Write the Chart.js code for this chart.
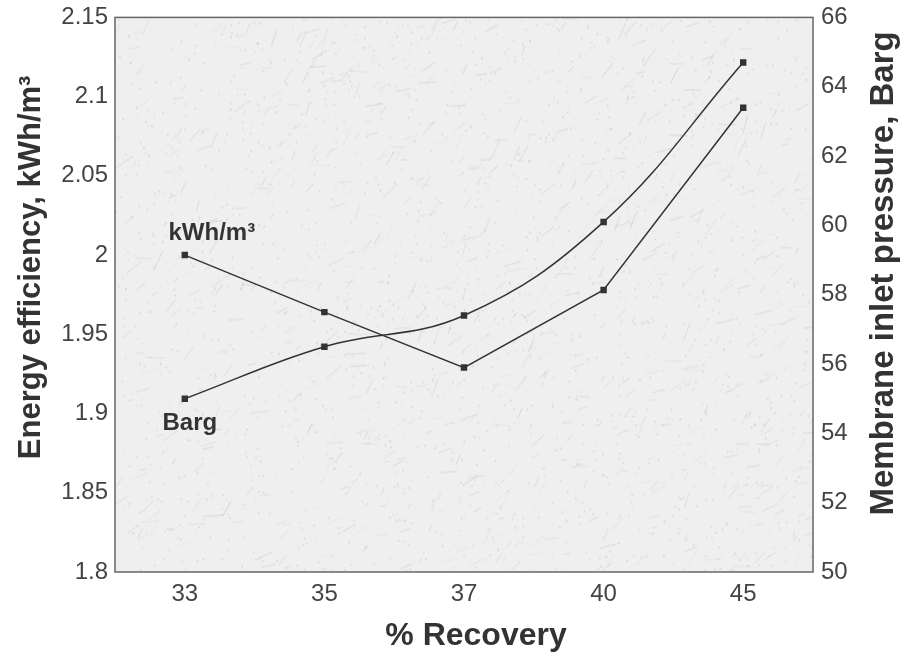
<!DOCTYPE html>
<html>
<head>
<meta charset="utf-8">
<script src="https://cdn.jsdelivr.net/npm/chart.js@4.4.1/dist/chart.umd.min.js"></script>
<style>
  html, body { margin: 0; padding: 0; background: #fff; }
  #wrap { width: 907px; height: 657px; }
</style>
</head>
<body>
<div id="wrap"><canvas id="chart" width="907" height="657"></canvas></div>
<script>
// data
const recovery = ['33', '35', '37', '40', '45'];
const energy = [2.0, 1.964, 1.929, 1.978, 2.093];   // kWh/m3, left axis
const pressure = [55.0, 56.5, 57.4, 60.1, 64.7];    // Barg, right axis
const leftTicks = [1.8, 1.85, 1.9, 1.95, 2, 2.05, 2.1, 2.15];
const rightTicks = [50, 52, 54, 56, 58, 60, 62, 64, 66];

const ink = '#333';
const font = 'Arial, "Liberation Sans", sans-serif';

// marble-ish backdrop for the plot area (deterministic texture)
function marble(w, h) {
  const c = document.createElement('canvas');
  c.width = w; c.height = h;
  const g = c.getContext('2d');
  g.fillStyle = '#efefef';
  g.fillRect(0, 0, w, h);
  const hash = n => { const s = Math.sin(n * 12.9898) * 43758.5453; return s - Math.floor(s); };
  for (let i = 0; i < 700; i++) {
    const x = hash(i) * w, y = hash(i + 0.5) * h;
    const a = -0.6 + (hash(i + 0.25) - 0.5) * 1.4;
    const len = 5 + hash(i + 0.75) * 14;
    g.strokeStyle = 'rgba(150,150,150,' + (0.08 + hash(i + 0.1) * 0.2) + ')';
    g.lineWidth = 1;
    g.beginPath();
    g.moveTo(x, y);
    g.lineTo(x + Math.cos(a) * len, y + Math.sin(a) * len);
    g.stroke();
  }
  for (let i = 0; i < 1800; i++) {
    const x = hash(i + 3000) * w, y = hash(i + 4000.5) * h;
    g.fillStyle = 'rgba(150,150,150,' + (0.12 + hash(i + 5000) * 0.25) + ')';
    g.fillRect(x, y, 1.5, 1.5);
  }
  return c;
}

function rotatedText(ctx, text, x, y, size) {
  ctx.save();
  ctx.translate(x, y);
  ctx.rotate(-Math.PI / 2);
  ctx.font = 'bold ' + size + 'px ' + font;
  ctx.fillText(text, 0, 0);
  ctx.restore();
}

const plotDecor = {
  id: 'plotDecor',
  beforeDraw(chart) {
    const { ctx, chartArea: a } = chart;
    ctx.save();
    ctx.drawImage(marble(Math.round(a.right - a.left), Math.round(a.bottom - a.top)), a.left, a.top);
    ctx.restore();
  },
  afterDatasetsDraw(chart) {
    const { ctx, chartArea: a, scales } = chart;
    ctx.save();
    ctx.strokeStyle = '#666';
    ctx.lineWidth = 1.5;
    ctx.strokeRect(a.left, a.top, a.right - a.left, a.bottom - a.top);
    // series labels next to the first points
    const x0 = scales.x.getPixelForValue(0);
    ctx.fillStyle = ink;
    ctx.textAlign = 'center';
    ctx.textBaseline = 'middle';
    ctx.font = 'bold 24px ' + font;
    ctx.fillText('kWh/m³', x0 + 27, scales.y.getPixelForValue(energy[0]) - 22);
    ctx.fillText('Barg', x0 + 5, scales.y1.getPixelForValue(pressure[0]) + 25);
    // axis titles
    ctx.font = 'bold 32px ' + font;
    ctx.fillText('% Recovery', (a.left + a.right) / 2 + 12, 636);
    rotatedText(ctx, 'Energy efficiency, kWh/m³', 31, a.top + 250, 31);
    rotatedText(ctx, 'Membrane inlet pressure, Barg', 884, a.top + 256, 33);
    ctx.restore();
  }
};

new Chart(document.getElementById('chart'), {
  type: 'line',
  data: {
    labels: recovery,
    datasets: [
      {
        label: 'kWh/m³',
        data: energy,
        yAxisID: 'y',
        borderColor: ink,
        borderWidth: 1.5,
        tension: 0,
        pointStyle: 'rect',
        pointRadius: 3.5,
        pointBackgroundColor: ink,
        pointBorderColor: ink
      },
      {
        label: 'Barg',
        data: pressure,
        yAxisID: 'y1',
        borderColor: ink,
        borderWidth: 1.5,
        tension: 0.4,
        pointStyle: 'rect',
        pointRadius: 3.5,
        pointBackgroundColor: ink,
        pointBorderColor: ink
      }
    ]
  },
  options: {
    responsive: false,
    animation: false,
    layout: { padding: { top: 17, left: 0, right: 0, bottom: 0 } },
    plugins: { legend: { display: false }, tooltip: { enabled: false } },
    scales: {
      x: {
        offset: true,
        grid: { display: false, drawTicks: false },
        border: { display: false },
        ticks: { color: '#444', font: { family: font, size: 24 }, padding: 8 },
        afterFit(s) { s.height = 85; }
      },
      y: {
        position: 'left',
        min: 1.8, max: 2.15,
        afterBuildTicks(s) { s.ticks = leftTicks.map(v => ({ value: v })); },
        grid: { display: false, drawTicks: true, tickLength: 5, tickColor: '#666' },
        border: { display: false },
        ticks: { color: '#444', font: { family: font, size: 24 }, padding: 2, callback: v => String(v) },
        afterFit(s) { s.width = 115; }
      },
      y1: {
        position: 'right',
        min: 50, max: 66,
        afterBuildTicks(s) { s.ticks = rightTicks.map(v => ({ value: v })); },
        grid: { display: false, drawOnChartArea: false, drawTicks: true, tickLength: 5, tickColor: '#666' },
        border: { display: false },
        ticks: { color: '#444', font: { family: font, size: 24 }, padding: 3 },
        afterFit(s) { s.width = 94; }
      }
    }
  },
  plugins: [plotDecor]
});
</script>
</body>
</html>
